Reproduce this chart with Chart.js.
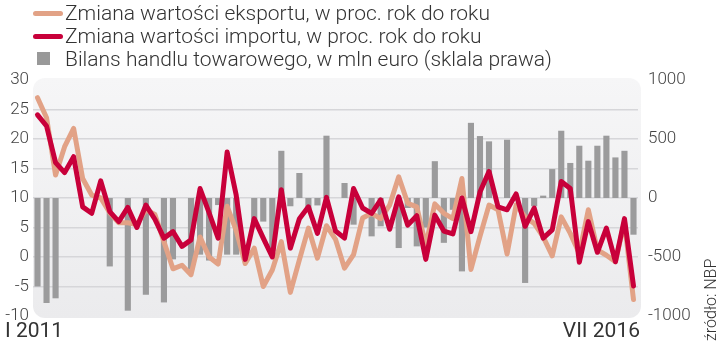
<!DOCTYPE html>
<html>
<head>
<meta charset="utf-8">
<script src="https://cdn.jsdelivr.net/npm/chart.js@4.4.0/dist/chart.umd.min.js"></script>
<style>
  html, body { margin: 0; padding: 0; background: #fff; }
  #wrap { position: relative; width: 720px; height: 343px; font-family: Roboto, "Noto Sans", sans-serif; color: #333; }
  #wrap canvas { position: absolute; left: 0; top: 0; }
  .leg { position: absolute; left: 0; font-size: 21px; font-weight: 300; white-space: nowrap; line-height: 22px; }
  .leg .sw { position: absolute; left: 33px; top: 9px; width: 30px; height: 5px; border-radius: 3px; }
  .leg .sq { position: absolute; left: 37px; top: 4px; width: 13px; height: 13px; background: #999; }
  .leg span.t { position: absolute; left: 65px; top: 0; }
  .xl { position: absolute; top: 318px; font-size: 21px; font-weight: 400; color: #333; }
  #src { position: absolute; left: 701px; top: 341px; transform: rotate(-90deg); transform-origin: 0 0; font-size: 16px; font-weight: 300; color: #333; white-space: nowrap; }
</style>
</head>
<body>
<div id="wrap">
  <canvas id="tradeChart" width="720" height="343"></canvas>
  <div class="leg" style="top:2px"><div class="sw" style="background:#e2a286"></div><span class="t">Zmiana wartości eksportu, w proc. rok do roku</span></div>
  <div class="leg" style="top:25px"><div class="sw" style="background:#c8003a"></div><span class="t">Zmiana wartości importu, w proc. rok do roku</span></div>
  <div class="leg" style="top:48px"><div class="sq"></div><span class="t">Bilans handlu towarowego, w mln euro (sklala prawa)</span></div>
  <div class="xl" style="left:5px">I 2011</div>
  <div class="xl" style="right:80px">VII 2016</div>
  <div id="src">źródło: NBP</div>
</div>
<script>
// Months: I 2011 .. VII 2016
const months = [
    'I 2011', 'II 2011', 'III 2011', 'IV 2011', 'V 2011', 'VI 2011', 'VII 2011', 'VIII 2011', 'IX 2011', 'X 2011', 'XI 2011', 'XII 2011',
    'I 2012', 'II 2012', 'III 2012', 'IV 2012', 'V 2012', 'VI 2012', 'VII 2012', 'VIII 2012', 'IX 2012', 'X 2012', 'XI 2012', 'XII 2012',
    'I 2013', 'II 2013', 'III 2013', 'IV 2013', 'V 2013', 'VI 2013', 'VII 2013', 'VIII 2013', 'IX 2013', 'X 2013', 'XI 2013', 'XII 2013',
    'I 2014', 'II 2014', 'III 2014', 'IV 2014', 'V 2014', 'VI 2014', 'VII 2014', 'VIII 2014', 'IX 2014', 'X 2014', 'XI 2014', 'XII 2014',
    'I 2015', 'II 2015', 'III 2015', 'IV 2015', 'V 2015', 'VI 2015', 'VII 2015', 'VIII 2015', 'IX 2015', 'X 2015', 'XI 2015', 'XII 2015',
    'I 2016', 'II 2016', 'III 2016', 'IV 2016', 'V 2016', 'VI 2016', 'VII 2016'
];

// Export change, % y/y
const exportChange = [
    27.0, 23.6, 13.9, 18.7, 21.8, 13.3, 10.5, 10.0, 7.5, 5.8, 5.8, 5.5,
    8.0, 7.2, 2.6, -2.0, -1.4, -3.0, 3.4, 0.0, -1.2, 8.6, 4.5, -1.1,
    1.5, -5.0, -2.2, 2.6, -6.0, -0.5, 4.9, -0.2, 5.3, 3.0, -1.9, 0.4,
    6.6, 7.4, 6.5, 8.8, 13.6, 9.1, 8.5, 2.0, 9.0, 7.4, 6.5, 13.3,
    -2.1, 3.5, 8.8, 8.0, 0.5, 8.8, 6.8, 5.7, 3.4, 0.2, 6.8, 4.0,
    0.6, 8.0, 1.2, 0.3, -0.8, 6.0, -7.2
];

// Import change, % y/y
const importChange = [
    24.1, 22.2, 16.0, 14.3, 17.0, 8.5, 7.4, 12.9, 7.7, 6.0, 8.4, 5.0,
    8.8, 6.4, 3.2, 4.3, 1.8, 2.9, 11.6, 7.5, 3.2, 17.8, 10.5, -0.4,
    6.5, 3.2, 0.0, 11.4, 1.5, 6.5, 8.5, 4.0, 10.1, 4.4, 3.2, 11.6,
    8.3, 7.4, 9.7, 4.7, 10.2, 5.4, 7.0, -0.4, 7.1, 4.4, 3.9, 10.0,
    4.3, 11.0, 14.5, 8.5, 8.0, 10.7, 5.2, 8.3, 3.2, 4.6, 12.8, 11.6,
    -0.9, 6.0, 0.8, 4.9, -0.8, 6.5, -4.9
];

// Goods trade balance, mln EUR (right axis)
const tradeBalance = [
    -750, -890, -850, null, null, null, null, null, -580, null, -955, null,
    -820, null, -885, -520, null, -607, -480, -530, -60, -480, -480, null,
    -200, -200, -450, 400, -70, 212, -100, -63, 528, null, 127, -226,
    null, -325, -240, null, -424, -85, -410, -250, 312, -380, -100, -622,
    637, 525, 480, null, 494, null, -720, -70, 20, 245, 570, 297,
    443, 316, 443, 528, 344, 400, -311
];

const leftTicks = [30, 25, 20, 15, 10, 5, 0, -5, -10];
const rightTicks = [1000, 500, 0, -500, -1000];

// Rounded, softly shaded plot background
const plotBackground = {
    id: 'plotBackground',
    beforeDraw(chart) {
        const { ctx, chartArea: a } = chart;
        const x = a.left, y = a.top - 2, w = a.right - a.left + 3, h = a.bottom - a.top + 4;
        const g = ctx.createLinearGradient(0, y, 0, y + h);
        g.addColorStop(0, '#f6f6f7');
        g.addColorStop(1, '#ebebed');
        ctx.save();
        ctx.fillStyle = g;
        ctx.beginPath();
        ctx.roundRect(x, y, w, h, 12);
        ctx.fill();
        ctx.restore();
    }
};

const tickFont = { family: 'Roboto', size: 17, weight: 300 };

new Chart(document.getElementById('tradeChart'), {
    data: {
        labels: months,
        datasets: [
            {
                type: 'line',
                label: 'Zmiana wartości importu, w proc. rok do roku',
                data: importChange,
                yAxisID: 'y',
                borderColor: '#c8003a',
                borderWidth: 5,
                pointRadius: 0,
                tension: 0,
                borderJoinStyle: 'round',
                borderCapStyle: 'round',
                order: 0
            },
            {
                type: 'line',
                label: 'Zmiana wartości eksportu, w proc. rok do roku',
                data: exportChange,
                yAxisID: 'y',
                borderColor: '#e2a286',
                borderWidth: 5,
                pointRadius: 0,
                tension: 0,
                borderJoinStyle: 'round',
                borderCapStyle: 'round',
                order: 1
            },
            {
                type: 'bar',
                label: 'Bilans handlu towarowego, w mln euro',
                data: tradeBalance,
                yAxisID: 'y1',
                backgroundColor: '#9b9b9c',
                barPercentage: 0.68,
                categoryPercentage: 1,
                order: 2
            }
        ]
    },
    options: {
        responsive: false,
        animation: false,
        layout: { padding: { top: 80, bottom: 27, left: 0, right: 0 } },
        plugins: {
            legend: { display: false },
            tooltip: { enabled: false }
        },
        scales: {
            x: {
                display: false,
                offset: true
            },
            y: {
                position: 'left',
                min: -10,
                max: 30,
                afterFit: s => { s.width = 33; },
                afterBuildTicks: s => { s.ticks = leftTicks.map(v => ({ value: v })); },
                border: { display: false },
                grid: {
                    drawTicks: false,
                    lineWidth: 1.5,
                    color: c => (c.tick.value === 30 || c.tick.value === -10) ? 'rgba(0,0,0,0)' : '#d6d6d9'
                },
                ticks: { padding: 4, color: '#444', font: tickFont, callback: v => String(v) }
            },
            y1: {
                position: 'right',
                min: -1000,
                max: 1000,
                afterFit: s => { s.width = 82; },
                afterBuildTicks: s => { s.ticks = rightTicks.map(v => ({ value: v })); },
                border: { display: false },
                grid: { display: false, drawTicks: false },
                ticks: { padding: 10, color: '#444', font: tickFont, callback: v => String(v) }
            }
        }
    },
    plugins: [plotBackground]
});
</script>
</body>
</html>
